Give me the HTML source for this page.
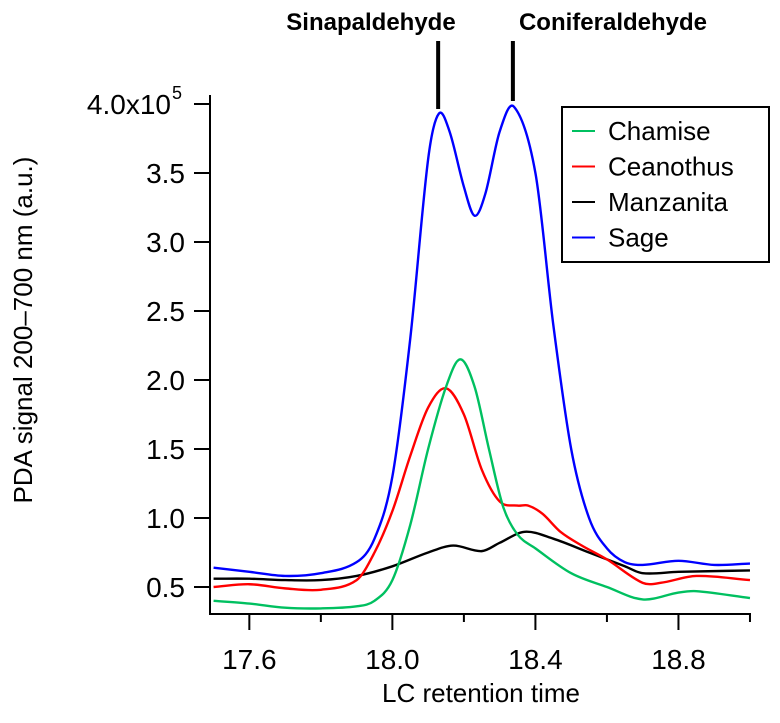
<!DOCTYPE html>
<html><head><meta charset="utf-8"><style>
body{margin:0;background:#fff;}
svg text{font-family:"Liberation Sans",Arial,sans-serif;}
</style></head><body>
<svg id="chart" width="780" height="718" viewBox="0 0 780 718" xmlns="http://www.w3.org/2000/svg">
<g id="axes"></g>
<g id="series"></g>
<g id="annot"></g>
<g id="legend"></g>
</svg>
<script>
const xTicks=[17.6,18.0,18.4,18.8];
const xMinor=[17.8,18.2,18.6,19.0];
const yTicks=[0.5,1.0,1.5,2.0,2.5,3.0,3.5,4.0];
const yTickLabels=["0.5","1.0","1.5","2.0","2.5","3.0","3.5","4.0x10"];
const seriesNames=["Chamise","Ceanothus","Manzanita","Sage"];
const seriesColors=["#00c060","#ff0000","#000000","#0000ff"];
const chamiseT=[17.5,17.6,17.7,17.8,17.9,17.95,18.0,18.05,18.1,18.15,18.19,18.23,18.27,18.31,18.35,18.4,18.5,18.6,18.7,18.8,18.85,19.0];
const chamiseV=[0.40,0.38,0.35,0.345,0.36,0.40,0.55,0.95,1.5,1.95,2.15,1.95,1.5,1.08,0.88,0.78,0.6,0.5,0.41,0.46,0.47,0.42];
const ceanothusT=[17.5,17.6,17.7,17.8,17.9,17.95,18.0,18.05,18.1,18.15,18.2,18.25,18.3,18.35,18.38,18.42,18.47,18.53,18.6,18.7,18.75,18.85,19.0];
const ceanothusV=[0.50,0.52,0.49,0.48,0.55,0.75,1.05,1.45,1.8,1.94,1.75,1.35,1.12,1.09,1.09,1.03,0.9,0.8,0.7,0.53,0.53,0.58,0.55];
const manzanitaT=[17.5,17.6,17.7,17.8,17.9,18.0,18.1,18.17,18.25,18.3,18.37,18.45,18.55,18.65,18.7,18.8,19.0];
const manzanitaV=[0.56,0.56,0.55,0.55,0.58,0.65,0.75,0.8,0.76,0.82,0.9,0.85,0.75,0.65,0.6,0.61,0.62];
const sageT=[17.5,17.6,17.7,17.8,17.9,17.95,18.0,18.05,18.1,18.13,18.16,18.2,18.23,18.26,18.3,18.34,18.4,18.45,18.5,18.55,18.6,18.65,18.7,18.8,18.9,19.0];
const sageV=[0.64,0.61,0.58,0.60,0.68,0.85,1.3,2.3,3.6,3.93,3.8,3.4,3.19,3.35,3.8,3.98,3.5,2.4,1.5,1.0,0.78,0.68,0.66,0.69,0.66,0.67];
const peakNames=["Sinapaldehyde","Coniferaldehyde"];
const peakTimes=[18.128,18.337];

const NS="http://www.w3.org/2000/svg";
const X=t=>210+(t-17.49)*357.6;
const Y=v=>587-(v-0.5)*138;
function mk(tag,attrs,parent){const e=document.createElementNS(NS,tag);for(const k in attrs)e.setAttribute(k,attrs[k]);parent.appendChild(e);return e;}
const axes=document.getElementById('axes');
let a=mk('line',{x1:210,y1:95,x2:210,y2:614,stroke:'#000','stroke-width':2},axes);


a=mk('line',{x1:209,y1:614,x2:751,y2:614,stroke:'#000','stroke-width':2},axes);


xTicks.forEach(t=>{
 let l=mk('line',{x1:X(t),y1:614,x2:X(t),y2:630,stroke:'#000','stroke-width':2},axes);
 
 
 let tx=mk('text',{x:X(t),y:669,'font-size':28,'text-anchor':'middle'},axes);tx.textContent=t.toFixed(1);
 
 
});
xMinor.forEach(t=>{
 let l=mk('line',{x1:X(t),y1:614,x2:X(t),y2:622,stroke:'#000','stroke-width':2},axes);
 
 
});
yTicks.forEach((v,i)=>{
 let l=mk('line',{x1:194,y1:Y(v),x2:210,y2:Y(v),stroke:'#000','stroke-width':2},axes);
 
 
 let tx=mk('text',{x:i===yTicks.length-1?171:185,y:Y(v)+10,'font-size':28,'text-anchor':'end'},axes);tx.textContent=yTickLabels[i];
 
 
 if(i===yTicks.length-1){let s=mk('text',{x:172,y:Y(v)-5,'font-size':18,'text-anchor':'start'},axes);s.textContent='5';
 
 }
});
let xt=mk('text',{x:481,y:702,'font-size':26,'text-anchor':'middle'},axes);xt.textContent='LC retention time';


let yt=mk('text',{x:0,y:0,'font-size':26,'text-anchor':'middle',transform:'translate(32,330) rotate(-90)'},axes);yt.textContent='PDA signal 200–700 nm (a.u.)';



function smooth(ts,vs){
 const n=ts.length,m=[];
 for(let i=0;i<n;i++){
  const a=Math.max(0,i-1),b=Math.min(n-1,i+1);
  m.push((vs[b]-vs[a])/(ts[b]-ts[a]));
 }
 let d='M'+X(ts[0])+','+Y(vs[0]);
 for(let i=0;i<n-1;i++){
  const h=(ts[i+1]-ts[i])/3;
  d+=' C'+X(ts[i]+h)+','+Y(vs[i]+m[i]*h)+' '+X(ts[i+1]-h)+','+Y(vs[i+1]-m[i+1]*h)+' '+X(ts[i+1])+','+Y(vs[i+1]);
 }
 return d;
}
const sg=document.getElementById('series');
const allT=[chamiseT,ceanothusT,manzanitaT,sageT],allV=[chamiseV,ceanothusV,manzanitaV,sageV];
[2,1,0,3].forEach(i=>{
 const p=mk('path',{d:smooth(allT[i],allV[i]),fill:'none',stroke:seriesColors[i],'stroke-width':2.4},sg);
 
 
});
const an=document.getElementById('annot');
const barTops=[41,41],barBots=[109,101];
peakNames.forEach((n,i)=>{
 const l=mk('line',{x1:X(peakTimes[i]),y1:barTops[i],x2:X(peakTimes[i]),y2:barBots[i],stroke:'#000','stroke-width':4},an);
 
 
 const t=mk('text',{x:i===0?371:613,y:30,'font-size':24,'font-weight':'bold','text-anchor':'middle'},an);t.textContent=n;
 
 
});
const lg=document.getElementById('legend');
const box=mk('rect',{x:562,y:107,width:207,height:155,fill:'#fff',stroke:'#000','stroke-width':2},lg);


seriesNames.forEach((n,i)=>{
 const yy=131+i*35.5;
 const l=mk('line',{x1:572,y1:yy,x2:595,y2:yy,stroke:seriesColors[i],'stroke-width':2},lg);
 
 
 const t=mk('text',{x:608,y:yy+9,'font-size':26},lg);t.textContent=n;
 
 
});
</script>
</body></html>
